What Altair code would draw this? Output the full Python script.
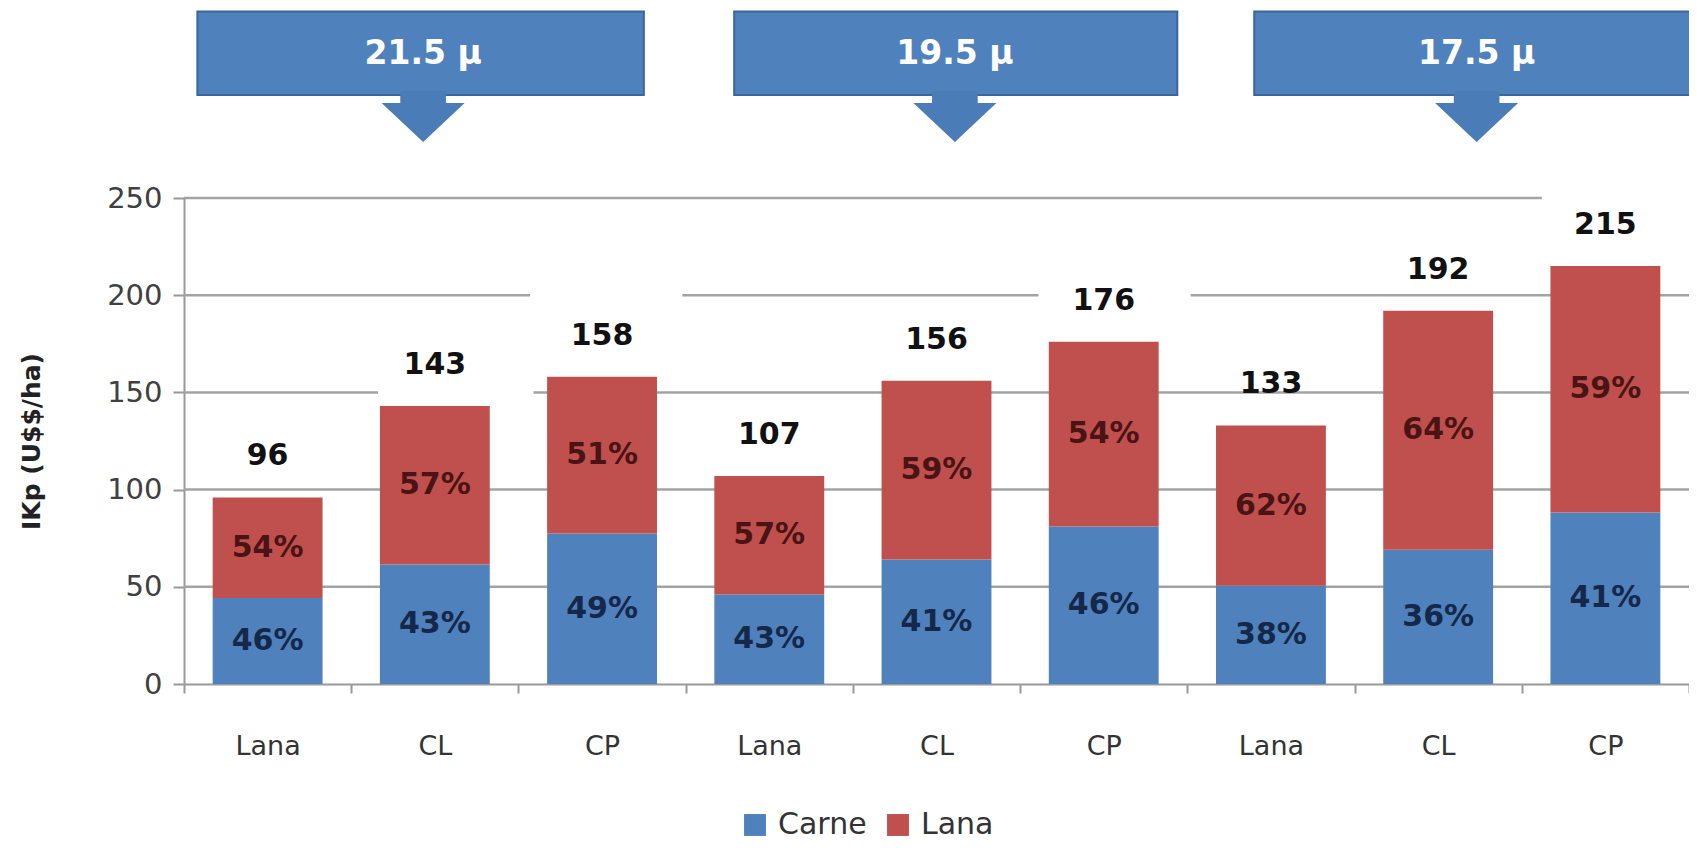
import json
import altair as alt
import pandas as pd

# ---------------- data ----------------
bar_ids = ["b1", "b2", "b3", "b4", "b5", "b6", "b7", "b8", "b9"]
system_labels = ["Lana", "CL", "CP", "Lana", "CL", "CP", "Lana", "CL", "CP"]
totals = [96, 143, 158, 107, 156, 176, 133, 192, 215]
carne_values = [44.2, 61.5, 77.4, 46.0, 64.0, 81.0, 50.5, 69.1, 88.2]
carne_pct = ["46%", "43%", "49%", "43%", "41%", "46%", "38%", "36%", "41%"]
lana_pct = ["54%", "57%", "51%", "57%", "59%", "54%", "62%", "64%", "59%"]
series_names = ["Carne", "Lana"]
series_colors = ["#4F81BD", "#C0504D"]
micron_labels = ["21.5 µ", "19.5 µ", "17.5 µ"]
y_ticks = [0, 50, 100, 150, 200, 250]
y_title = "IKp (U$$/ha)"

# ---------------- annotation layout (slot units along x, axis units along y) ----------------
callout_left = [0.08, 3.29, 6.40]
callout_right = [2.75, 5.94, 9.30]
callout_center = [1.43, 4.61, 7.73]
box_top, box_bottom, arrow_y, text_y = 346, 303, 291, 324
grid_value = [250, 200, 200, 200, 150, 150, 100, 50]
grid_from = [0, 0, 2.98, 6.02, 0, 2.09, 0, 0]
grid_to = [8.12, 2.07, 5.11, 9, 1.16, 9, 9, 9]

FONT = "DejaVu Sans"
W, H = 1505, 486

# ---------------- tables ----------------
rows = []
for i, k in enumerate(bar_ids):
    rows.append({"key": k, "series": series_names[0], "start": 0,
                 "end": carne_values[i], "pct": carne_pct[i]})
    rows.append({"key": k, "series": series_names[1], "start": carne_values[i],
                 "end": totals[i], "pct": lana_pct[i]})
seg_df = pd.DataFrame(rows)
tot_df = pd.DataFrame({"key": bar_ids, "total": totals})
call_df = pd.DataFrame({
    "label": micron_labels, "x1": callout_left, "x2": callout_right,
    "xc": callout_center, "top": box_top, "bottom": box_bottom,
    "ay": arrow_y, "ty": text_y,
})
grid_df = pd.DataFrame({"v": grid_value, "a": grid_from, "b": grid_to})

u_scale = alt.Scale(domain=[0, 9], nice=False, zero=False)
y_scale = alt.Scale(domain=[0, 250], nice=False)
x_band = alt.Scale(domain=bar_ids, paddingInner=0, paddingOuter=0)

label_expr = (f"{json.dumps(system_labels)}"
              f"[indexof({json.dumps(bar_ids)}, datum.value)]")

# ---------------- background: gridlines + callouts ----------------
grid = alt.Chart(grid_df).mark_rule(color="#A3A3A3", strokeWidth=2.5).encode(
    x=alt.X("a:Q", scale=u_scale, axis=None),
    x2="b:Q",
    y=alt.Y("v:Q", scale=y_scale),
)

boxes = alt.Chart(call_df).mark_rect(
    color="#4F81BD", stroke="#3A6699", strokeWidth=2
).encode(
    x=alt.X("x1:Q", scale=u_scale, axis=None),
    x2="x2:Q",
    y=alt.Y("top:Q", scale=y_scale),
    y2="bottom:Q",
)

ARROW = "M-0.55,-0.66 L0.55,-0.66 L0.55,-0.37 L1,-0.37 L0,0.57 L-1,-0.37 L-0.55,-0.37 Z"
arrows = alt.Chart(call_df).mark_point(
    shape=ARROW, size=6889, filled=True, color="#4A7CB8", opacity=1, strokeWidth=0
).encode(
    x=alt.X("xc:Q", scale=u_scale, axis=None),
    y=alt.Y("ay:Q", scale=y_scale),
)

call_text = alt.Chart(call_df).mark_text(
    font=FONT, fontWeight="bold", fontSize=33, color="#FFFFFF", baseline="middle"
).encode(
    x=alt.X("xc:Q", scale=u_scale, axis=None),
    y=alt.Y("ty:Q", scale=y_scale),
    text="label:N",
)

back = alt.layer(grid, boxes, arrows, call_text)

# ---------------- foreground: stacked bars ----------------
bars = alt.Chart(seg_df).mark_bar(width=alt.RelativeBandSize(0.657)).encode(
    x=alt.X("key:N", sort=bar_ids, scale=x_band, axis=alt.Axis(
        orient="bottom", title=None, labelExpr=label_expr, labelAngle=0, labelFont=FONT,
        labelFontSize=27, labelColor="#333333", labelPadding=40,
        tickBand="extent", tickSize=9, tickWidth=2, tickColor="#999999",
        domainColor="#999999", domainWidth=2, grid=False,
    )),
    y=alt.Y("start:Q", scale=y_scale, axis=alt.Axis(
        orient="left", title=y_title, values=y_ticks, titleFont=FONT, titleFontSize=25,
        titleFontWeight="bold", titleColor="#222222", titlePadding=62,
        labelFont=FONT, labelFontSize=29, labelColor="#404040", labelPadding=11,
        tickSize=11, tickWidth=2, tickColor="#999999",
        domainColor="#999999", domainWidth=2, grid=False,
    )),
    y2="end:Q",
    color=alt.Color("series:N", scale=alt.Scale(domain=series_names, range=series_colors),
                    legend=alt.Legend(
                        orient="none", legendX=556, legendY=612, direction="horizontal",
                        title=None, labelFont=FONT, labelFontSize=30, labelColor="#333333",
                        symbolType="square", symbolSize=480, symbolStrokeWidth=0,
                        labelOffset=8, columnPadding=16,
                    )),
)

pct = alt.Chart(seg_df).transform_calculate(
    mid="(datum.start + datum.end) / 2"
).mark_text(font=FONT, fontWeight="bold", fontSize=30, baseline="middle").encode(
    x=alt.X("key:N", sort=bar_ids, scale=x_band),
    y=alt.Y("mid:Q", scale=y_scale),
    text="pct:N",
    color=alt.condition("datum.series == 'Carne'", alt.value("#15284A"), alt.value("#4A1414")),
)

tot = alt.Chart(tot_df).mark_text(
    font=FONT, fontWeight="bold", fontSize=30, baseline="middle", dy=-41, color="#111111"
).encode(
    x=alt.X("key:N", sort=bar_ids, scale=x_band),
    y=alt.Y("total:Q", scale=y_scale),
    text="total:Q",
)

front = alt.layer(bars, pct, tot)

chart = alt.layer(back, front).resolve_scale(x="independent").properties(
    width=W, height=H,
    autosize=alt.AutoSizeParams(type="none"),
    padding={"left": 176, "top": 190, "right": 0, "bottom": 164},
    background="#FFFFFF",
).configure_view(stroke=None)

chart.save("out.html", embed_options={"renderer": "svg", "actions": False})
